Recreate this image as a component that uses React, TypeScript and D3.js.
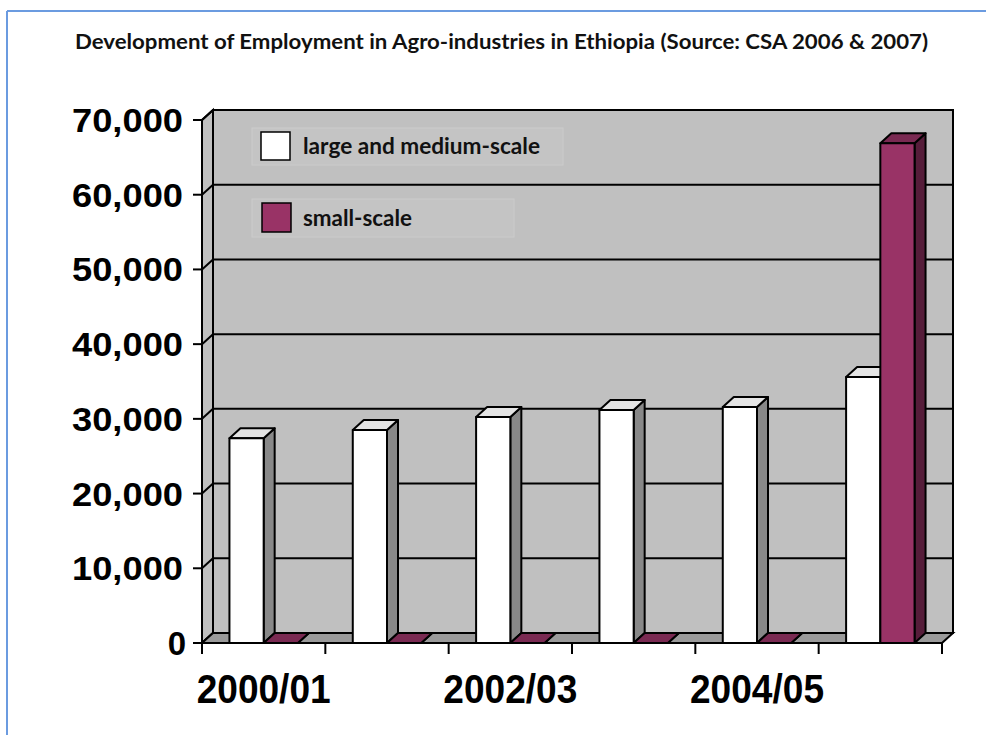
import React from "react";
import * as d3 from "d3";

const categories = ["2000/01", "2001/02", "2002/03", "2003/04", "2004/05", "2005/06"];
const shownCategoryLabels = ["2000/01", "2002/03", "2004/05"];
const seriesNames = ["large and medium-scale", "small-scale"];
const largeMedium = [27400, 28500, 30250, 31200, 31600, 35600];
const smallScale = [0, 0, 0, 0, 0, 66900];
const yTicks = [0, 10000, 20000, 30000, 40000, 50000, 60000, 70000];
const titleText = "Development of Employment in Agro-industries in Ethiopia (Source: CSA 2006 & 2007)";

const W = 996, H = 735;
const DX = 11, DY = -10;
const face = {
  white: { front: "#ffffff", side: "#888888", top: "#e4e4e4" },
  purple: { front: "#993366", side: "#561d3a", top: "#7a2a52" },
};

export default function App() {
  const y = d3.scaleLinear().domain([0, 70000]).range([643, 120]);
  const x = d3.scaleBand<string>().domain(categories).range([202, 942]).padding(0);
  const bw = x.bandwidth();
  const groupW = bw * 0.555;
  const inner = d3.scaleBand<string>().domain(seriesNames).range([(bw - groupW) / 2, (bw + groupW) / 2]).padding(0);
  const x0 = x.range()[0], x1 = x.range()[1];
  const yTop = y(70000), yBase = y(0);
  const fmt = d3.format(",");

  const pts = (arr: number[][]) => arr.map((p) => p.join(",")).join(" ");

  const bars: React.ReactNode[] = [];
  categories.forEach((c, i) => {
    [largeMedium[i], smallScale[i]].forEach((v, s) => {
      const col = s === 0 ? face.white : face.purple;
      const bx = (x(c) as number) + (inner(seriesNames[s]) as number);
      const ww = inner.bandwidth();
      const ty = y(v);
      bars.push(
        <g key={c + s} stroke="#000" strokeWidth={2} strokeLinejoin="round">
          <polygon fill={col.side} points={pts([[bx + ww, yBase], [bx + ww + DX, yBase + DY], [bx + ww + DX, ty + DY], [bx + ww, ty]])} />
          <polygon fill={col.top} points={pts([[bx, ty], [bx + DX, ty + DY], [bx + ww + DX, ty + DY], [bx + ww, ty]])} />
          {v > 0 && <rect fill={col.front} x={bx} y={ty} width={ww} height={yBase - ty} />}
        </g>
      );
    });
  });

  return (
    <svg width={W} height={H} style={{ position: "absolute", left: 0, top: 0, background: "#fff" }}>
      <line x1={7} y1={11} x2={986} y2={11} stroke="#6b9be0" strokeWidth={2} />
      <line x1={7} y1={11} x2={7} y2={H} stroke="#6b9be0" strokeWidth={2} />
      <text x={75} y={49} fontFamily="Lato, 'Open Sans', sans-serif" fontWeight={700} fontSize={21} textLength={853} lengthAdjust="spacingAndGlyphs" fill="#111">
        {titleText}
      </text>

      {/* back wall */}
      <rect x={x0 + DX} y={yTop + DY} width={x1 - x0} height={yBase - yTop} fill="#c0c0c0" stroke="#000" strokeWidth={2} />
      {yTicks.map((t) => (
        <line key={"g" + t} x1={x0 + DX} x2={x1 + DX} y1={y(t) + DY} y2={y(t) + DY} stroke="#000" strokeWidth={2} />
      ))}
      {/* side wall */}
      <polygon points={pts([[x0, yTop], [x0 + DX, yTop + DY], [x0 + DX, yBase + DY], [x0, yBase]])} fill="#c0c0c0" stroke="#000" strokeWidth={2} />
      {yTicks.map((t) => (
        <line key={"s" + t} x1={x0} y1={y(t)} x2={x0 + DX} y2={y(t) + DY} stroke="#000" strokeWidth={2} />
      ))}
      {/* floor */}
      <polygon points={pts([[x0, yBase], [x0 + DX, yBase + DY], [x1 + DX, yBase + DY], [x1, yBase]])} fill="#9a9a9a" stroke="#000" strokeWidth={2} />

      {/* legend */}
      <rect x={252} y={128} width={311} height={37} fill="#c4c4c4" stroke="#cbcbcb" strokeWidth={1} />
      <rect x={252} y={199} width={262} height={38} fill="#c4c4c4" stroke="#cbcbcb" strokeWidth={1} />
      <rect x={261} y={132} width={29} height={28} fill="#ffffff" stroke="#000" strokeWidth={1.5} />
      <rect x={262} y={203} width={29} height={29} fill="#993366" stroke="#000" strokeWidth={1.5} />
      <text x={303} y={154} fontFamily="Lato, 'Open Sans', sans-serif" fontWeight={700} fontSize={22} textLength={237} lengthAdjust="spacingAndGlyphs" fill="#111">
        {seriesNames[0]}
      </text>
      <text x={303} y={226} fontFamily="Lato, 'Open Sans', sans-serif" fontWeight={700} fontSize={22} textLength={109} lengthAdjust="spacingAndGlyphs" fill="#111">
        {seriesNames[1]}
      </text>

      {bars}

      {/* axes */}
      <line x1={x0} x2={x0} y1={yTop} y2={yBase} stroke="#000" strokeWidth={2} />
      <line x1={x0} x2={x1} y1={yBase} y2={yBase} stroke="#000" strokeWidth={2} />
      {yTicks.map((t) => (
        <g key={"yt" + t}>
          <line x1={x0 - 9} x2={x0} y1={y(t)} y2={y(t)} stroke="#000" strokeWidth={2} />
          <text x={t === 0 ? 186 : 183} y={y(t) + 12} textAnchor="end" fontFamily="'Liberation Sans', Arial, sans-serif" fontWeight={700} fontSize={33} textLength={t === 0 ? undefined : 111} lengthAdjust="spacingAndGlyphs" fill="#000">
            {fmt(t)}
          </text>
        </g>
      ))}
      {[...categories.map((c) => x(c) as number), x1].map((tx, i) => (
        <line key={"xt" + i} x1={tx} x2={tx} y1={yBase} y2={yBase + 11} stroke="#000" strokeWidth={2} />
      ))}
      {shownCategoryLabels.map((c) => (
        <text key={"xl" + c} x={(x(c) as number) + bw / 2} y={703} textAnchor="middle" fontFamily="'Liberation Sans', Arial, sans-serif" fontWeight={700} fontSize={40} textLength={134} lengthAdjust="spacingAndGlyphs" fill="#000">
          {c}
        </text>
      ))}
    </svg>
  );
}
